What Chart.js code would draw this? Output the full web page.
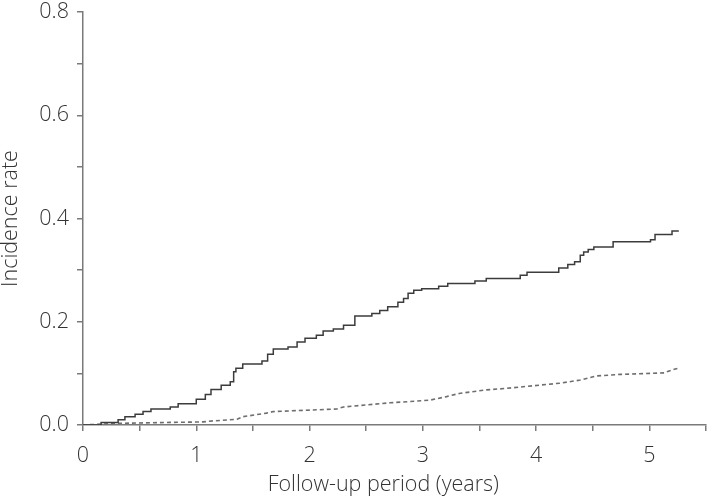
<!DOCTYPE html>
<html>
<head>
<meta charset="utf-8">
<script src="https://cdn.jsdelivr.net/npm/chart.js@4.4.0/dist/chart.umd.min.js"></script>
<style>
  html, body { margin: 0; padding: 0; background: #fff; }
  #wrap { width: 709px; height: 498px; }
</style>
</head>
<body>
<div id="wrap"><canvas id="c" width="709" height="498"></canvas></div>
<script>
// solid curve (step times in years, cumulative incidence)
let solidX = [0, 0.16, 0.31, 0.37, 0.46, 0.53, 0.60, 0.77, 0.84, 1.00, 1.08, 1.13, 1.22, 1.30, 1.33, 1.35, 1.41, 1.58, 1.63, 1.68, 1.81, 1.89, 1.96, 2.06, 2.12, 2.21, 2.30, 2.40, 2.55, 2.62, 2.69, 2.78, 2.83, 2.87, 2.92, 2.99, 3.14, 3.22, 3.46, 3.56, 3.86, 3.92, 4.20, 4.28, 4.34, 4.39, 4.42, 4.46, 4.51, 4.68, 5.01, 5.05, 5.20, 5.26];
let solidY = [0, 0.005, 0.010, 0.016, 0.021, 0.026, 0.031, 0.035, 0.041, 0.050, 0.059, 0.069, 0.077, 0.084, 0.103, 0.110, 0.118, 0.124, 0.137, 0.147, 0.151, 0.161, 0.168, 0.174, 0.182, 0.186, 0.193, 0.211, 0.216, 0.222, 0.229, 0.238, 0.245, 0.255, 0.261, 0.264, 0.269, 0.274, 0.279, 0.284, 0.290, 0.296, 0.304, 0.311, 0.316, 0.329, 0.335, 0.340, 0.345, 0.355, 0.359, 0.369, 0.376, 0.376];

// dashed curve
let dashedX = [0, 0.27, 0.77, 1.06, 1.15, 1.36, 1.41, 1.62, 1.68, 2.24, 2.30, 2.71, 3.06, 3.21, 3.32, 3.56, 3.74, 4.21, 4.39, 4.53, 4.74, 5.13, 5.22, 5.26];
let dashedY = [0, 0.003, 0.005, 0.006, 0.008, 0.011, 0.016, 0.023, 0.026, 0.031, 0.035, 0.043, 0.048, 0.055, 0.061, 0.068, 0.071, 0.081, 0.087, 0.095, 0.098, 0.101, 0.108, 0.110];

let xTitle = 'Follow-up period (years)    ';
let yTitle = 'Incidence rate';

function toPoints(xs, ys) {
    return xs.map((x, i) => ({ x: x, y: ys[i] }));
}

let tickFont = { family: '"Open Sans", "DejaVu Sans", sans-serif', size: 21.5, weight: '300' };
let titleFont = { family: '"Open Sans", "DejaVu Sans", sans-serif', size: 21.5, weight: '300', lineHeight: 1 };
let axisColor = '#7a7a7a';

let config = {
    type: 'line',
    data: {
        datasets: [{
            label: 'solid',
            data: toPoints(solidX, solidY),
            borderColor: '#3c3c3c',
            borderWidth: 1.5,
            stepped: 'before',
            pointRadius: 0,
            fill: false
        },
        {
            label: 'dashed',
            data: toPoints(dashedX, dashedY),
            borderColor: '#6e6e6e',
            borderWidth: 1.6,
            borderDash: [4, 3],
            pointRadius: 0,
            fill: false
        }]
    },
    options: {
        responsive: false,
        animation: false,
        layout: { padding: { left: 0, top: 12, right: 3, bottom: 0 } },
        plugins: { legend: { display: false }, tooltip: { enabled: false } },
        scales: {
            x: {
                type: 'linear',
                min: 0,
                max: 5.5,
                afterFit: (axis) => { axis.height = 73; axis.paddingLeft = 0; axis.paddingRight = 0; },
                border: { color: axisColor, width: 1.5 },
                grid: { drawOnChartArea: false, drawTicks: true, tickLength: 6, color: axisColor, lineWidth: 1.5 },
                ticks: {
                    stepSize: 0.5,
                    padding: 12,
                    color: '#333',
                    font: tickFont,
                    maxRotation: 0,
                    autoSkip: false,
                    callback: (v) => Number.isInteger(v) ? String(v) : ''
                },
                title: { display: true, text: xTitle, color: '#333', font: titleFont, padding: { top: 0, bottom: 2 } }
            },
            y: {
                min: 0,
                max: 0.8,
                afterFit: (axis) => { axis.width = 83; axis.paddingTop = 0; axis.paddingBottom = 0; },
                border: { color: axisColor, width: 1.5 },
                grid: { drawOnChartArea: false, drawTicks: true, tickLength: 6, color: axisColor, lineWidth: 1.5 },
                ticks: {
                    stepSize: 0.1,
                    padding: 8,
                    color: '#333',
                    font: tickFont,
                    autoSkip: false,
                    callback: (v) => Math.round(v * 10) % 2 === 0 ? v.toFixed(1) : ''
                },
                title: { display: true, text: yTitle, color: '#333', font: titleFont, padding: { top: 0, bottom: 0 } }
            }
        }
    }
};

new Chart(document.getElementById('c').getContext('2d'), config);
</script>
</body>
</html>
